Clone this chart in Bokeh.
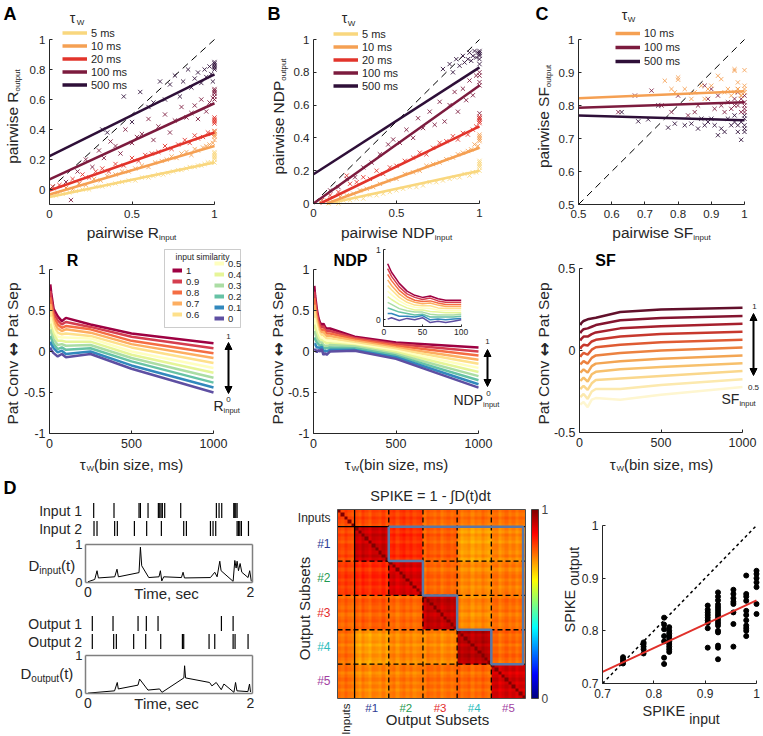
import numpy as np
from bokeh.plotting import figure
from bokeh.models import (Range1d, LinearAxis, FixedTicker, NumeralTickFormatter, Label, Legend,
                          LegendItem, Arrow, NormalHead, BoxAnnotation, ColorBar, LinearColorMapper)
from bokeh.layouts import row, column
from bokeh.embed import file_html
from bokeh.resources import INLINE

# ============================ DATA ============================
tau_names = ["5 ms", "10 ms", "20 ms", "100 ms", "500 ms"]
tau_colors = ["#F9D77E", "#F5A053", "#E2342B", "#7C1B3E", "#2E0F38"]

# ---- A: pairwise R ----
a_x_5 = [0.04, 0.08, 0.12, 0.16, 0.2, 0.24, 0.28, 0.32, 0.36, 0.4, 0.44, 0.48, 0.52, 0.56, 0.6, 0.63, 0.66, 0.69, 0.72, 0.75, 0.78, 0.8, 0.83, 0.85, 0.88, 0.9, 0.92, 0.94, 0.96, 0.98, 1.0, 1.0, 1.0, 1.0, 1.0, 1.0, 1.0]
a_y_5 = [-0.04, -0.03, -0.02, -0.01, 0.0, 0.0, 0.02, 0.02, 0.03, 0.04, 0.05, 0.06, 0.06, 0.08, 0.08, 0.09, 0.1, 0.1, 0.11, 0.12, 0.13, 0.13, 0.14, 0.15, 0.15, 0.16, 0.16, 0.17, 0.18, 0.18, 0.22, 0.24, 0.2, 0.18, 0.23, 0.21, 0.25]
a_x_10 = [0.05, 0.1, 0.14, 0.18, 0.22, 0.27, 0.31, 0.35, 0.4, 0.44, 0.48, 0.52, 0.56, 0.6, 0.64, 0.68, 0.71, 0.74, 0.77, 0.8, 0.83, 0.86, 0.88, 0.9, 0.93, 0.95, 0.97, 0.99, 1.0, 1.0, 1.0, 1.0, 1.0, 1.0]
a_y_10 = [-0.02, 0.01, 0.0, 0.04, 0.03, 0.07, 0.06, 0.09, 0.1, 0.12, 0.12, 0.14, 0.16, 0.15, 0.18, 0.19, 0.2, 0.22, 0.21, 0.24, 0.25, 0.23, 0.27, 0.26, 0.28, 0.29, 0.3, 0.31, 0.37, 0.38, 0.33, 0.36, 0.39, 0.35]
a_x_20 = [0.02, 0.06, 0.1, 0.14, 0.18, 0.2, 0.24, 0.28, 0.32, 0.36, 0.4, 0.45, 0.5, 0.54, 0.58, 0.62, 0.66, 0.7, 0.74, 0.78, 0.82, 0.85, 0.88, 0.9, 0.93, 0.96, 0.98, 1.0, 1.0, 1.0, 1.0, 1.0, 1.0]
a_y_20 = [0.02, 0.03, 0.01, 0.07, 0.04, 0.1, 0.08, 0.12, 0.14, 0.12, 0.17, 0.16, 0.21, 0.19, 0.23, 0.24, 0.25, 0.29, 0.27, 0.3, 0.33, 0.31, 0.36, 0.34, 0.35, 0.38, 0.37, 0.47, 0.45, 0.39, 0.46, 0.48, 0.44]
a_x_100 = [0.1, 0.13, 0.17, 0.22, 0.26, 0.3, 0.33, 0.37, 0.4, 0.43, 0.46, 0.5, 0.53, 0.56, 0.6, 0.63, 0.66, 0.7, 0.73, 0.76, 0.8, 0.83, 0.86, 0.88, 0.9, 0.92, 0.95, 0.97, 0.99, 1.0, 1.0, 1.0, 1.0, 1.0, 1.0]
a_y_100 = [0.05, -0.07, 0.12, 0.2, 0.15, 0.26, 0.21, 0.32, 0.29, 0.24, 0.4, 0.31, 0.35, 0.37, 0.47, 0.33, 0.42, 0.5, 0.38, 0.46, 0.55, 0.48, 0.51, 0.56, 0.47, 0.6, 0.52, 0.58, 0.61, 0.66, 0.64, 0.6, 0.62, 0.67, 0.65]
a_x_500 = [0.32, 0.35, 0.45, 0.5, 0.55, 0.6, 0.63, 0.67, 0.7, 0.73, 0.76, 0.79, 0.81, 0.84, 0.86, 0.88, 0.9, 0.92, 0.94, 0.95, 0.97, 0.98, 0.99, 1.0, 1.0, 1.0, 1.0, 1.0, 1.0]
a_y_500 = [0.4, 0.38, 0.62, 0.45, 0.65, 0.55, 0.58, 0.72, 0.6, 0.7, 0.76, 0.62, 0.72, 0.8, 0.68, 0.74, 0.78, 0.71, 0.8, 0.75, 0.82, 0.77, 0.72, 0.84, 0.82, 0.8, 0.85, 0.83, 0.81]
a_fit_x = [0.0, 1.0]
a_fit_5 = [-0.05, 0.18]
a_fit_10 = [-0.033, 0.29]
a_fit_20 = [-0.007, 0.38]
a_fit_100 = [0.067, 0.575]
a_fit_500 = [0.222, 0.767]

# ---- B: pairwise NDP ----
b_x_5 = [0.09, 0.12, 0.15, 0.18, 0.22, 0.26, 0.3, 0.34, 0.38, 0.42, 0.46, 0.5, 0.54, 0.58, 0.62, 0.66, 0.7, 0.74, 0.78, 0.82, 0.85, 0.88, 0.91, 0.94, 0.96, 0.98, 1.0, 1.0, 1.0, 1.0, 1.0, 1.0]
b_y_5 = [0.0, 0.01, 0.0, 0.02, 0.02, 0.03, 0.03, 0.05, 0.05, 0.06, 0.07, 0.08, 0.09, 0.1, 0.1, 0.11, 0.13, 0.13, 0.14, 0.15, 0.16, 0.16, 0.18, 0.17, 0.19, 0.19, 0.25, 0.22, 0.2, 0.24, 0.26, 0.23]
b_x_10 = [0.04, 0.08, 0.12, 0.16, 0.2, 0.24, 0.28, 0.32, 0.36, 0.4, 0.45, 0.5, 0.55, 0.6, 0.64, 0.68, 0.72, 0.76, 0.8, 0.84, 0.87, 0.9, 0.93, 0.95, 0.97, 0.99, 1.0, 1.0, 1.0, 1.0, 1.0]
b_y_10 = [0.01, 0.02, 0.01, 0.04, 0.05, 0.06, 0.08, 0.09, 0.1, 0.12, 0.14, 0.15, 0.18, 0.19, 0.2, 0.23, 0.24, 0.25, 0.27, 0.28, 0.3, 0.31, 0.32, 0.33, 0.36, 0.35, 0.4, 0.41, 0.39, 0.42, 0.38]
b_x_20 = [0.05, 0.1, 0.15, 0.2, 0.22, 0.26, 0.3, 0.34, 0.38, 0.42, 0.46, 0.5, 0.55, 0.6, 0.64, 0.68, 0.72, 0.76, 0.8, 0.84, 0.87, 0.9, 0.93, 0.96, 0.98, 1.0, 1.0, 1.0, 1.0, 1.0]
b_y_20 = [0.02, 0.05, 0.07, 0.17, 0.12, 0.13, 0.16, 0.15, 0.2, 0.18, 0.22, 0.23, 0.26, 0.28, 0.31, 0.3, 0.34, 0.37, 0.38, 0.41, 0.39, 0.43, 0.42, 0.45, 0.47, 0.51, 0.5, 0.52, 0.49, 0.53]
b_x_100 = [0.1, 0.15, 0.2, 0.25, 0.3, 0.35, 0.4, 0.45, 0.48, 0.52, 0.56, 0.6, 0.63, 0.66, 0.7, 0.73, 0.76, 0.79, 0.82, 0.85, 0.87, 0.9, 0.92, 0.94, 0.96, 0.98, 1.0, 1.0, 1.0, 1.0, 1.0, 1.0]
b_y_100 = [0.08, 0.1, 0.15, 0.16, 0.22, 0.25, 0.3, 0.36, 0.39, 0.37, 0.45, 0.4, 0.52, 0.46, 0.56, 0.48, 0.62, 0.5, 0.6, 0.68, 0.56, 0.7, 0.63, 0.75, 0.66, 0.78, 0.72, 0.8, 0.55, 0.78, 0.74, 0.52]
b_x_500 = [0.78, 0.82, 0.84, 0.86, 0.88, 0.9, 0.91, 0.93, 0.94, 0.95, 0.96, 0.97, 0.98, 0.99, 1.0, 1.0, 1.0, 1.0, 1.0, 1.0]
b_y_500 = [0.82, 0.85, 0.8, 0.88, 0.84, 0.9, 0.86, 0.88, 0.92, 0.87, 0.9, 0.93, 0.89, 0.92, 0.93, 0.9, 0.85, 0.92, 0.88, 0.91]
b_fitx_5, b_fit_5 = [0.09, 1.0], [0.0, 0.2]
b_fitx_10, b_fit_10 = [0.08, 1.0], [0.0, 0.34]
b_fitx_20, b_fit_20 = [0.04, 1.0], [0.0, 0.47]
b_fitx_100, b_fit_100 = [0.0, 1.0], [0.0, 0.72]
b_fitx_500, b_fit_500 = [0.0, 1.0], [0.178, 0.83]

# ---- C: pairwise SF ----
c_names = ["10 ms", "100 ms", "500 ms"]
c_colors = ["#F5A053", "#7C1B3E", "#2E0F38"]
c_x_10 = [0.76, 0.78, 0.79, 0.8, 0.8, 0.82, 0.84, 0.85, 0.87, 0.88, 0.89, 0.9, 0.92, 0.93, 0.94, 0.95, 0.96, 0.97, 0.97, 0.98, 0.98, 0.99, 0.99, 1.0, 1.0, 1.0, 0.97, 0.98, 0.99, 1.0]
c_y_10 = [0.875, 0.85, 0.84, 0.885, 0.878, 0.85, 0.82, 0.84, 0.86, 0.82, 0.85, 0.86, 0.89, 0.88, 0.84, 0.85, 0.83, 0.91, 0.905, 0.85, 0.87, 0.83, 0.84, 0.907, 0.86, 0.84, 0.84, 0.85, 0.83, 0.85]
c_x_100 = [0.62, 0.67, 0.72, 0.75, 0.78, 0.8, 0.83, 0.85, 0.86, 0.88, 0.89, 0.9, 0.91, 0.92, 0.93, 0.94, 0.95, 0.96, 0.97, 0.98, 0.98, 0.99, 1.0, 1.0, 1.0, 0.97, 0.99, 1.0, 1.0]
c_y_100 = [0.78, 0.83, 0.845, 0.8, 0.78, 0.83, 0.77, 0.78, 0.8, 0.86, 0.82, 0.85, 0.79, 0.83, 0.8, 0.78, 0.81, 0.79, 0.82, 0.8, 0.84, 0.78, 0.81, 0.79, 0.83, 0.8, 0.82, 0.8, 0.78]
c_x_500 = [0.63, 0.68, 0.71, 0.74, 0.77, 0.79, 0.82, 0.84, 0.86, 0.87, 0.88, 0.89, 0.9, 0.91, 0.92, 0.93, 0.94, 0.95, 0.96, 0.97, 0.98, 0.99, 0.99, 1.0, 1.0, 1.0, 0.97, 0.98, 1.0, 1.0]
c_y_500 = [0.78, 0.752, 0.758, 0.8, 0.733, 0.745, 0.74, 0.745, 0.73, 0.76, 0.74, 0.75, 0.76, 0.74, 0.71, 0.73, 0.72, 0.76, 0.74, 0.77, 0.72, 0.696, 0.75, 0.74, 0.76, 0.73, 0.75, 0.74, 0.72, 0.77]
c_fit_x = [0.5, 1.0]
c_fit_10 = [0.822, 0.843]
c_fit_100 = [0.793, 0.81]
c_fit_500 = [0.77, 0.755]

# ---- bottom row: similarity sweeps ----
sim_levels = ["1", "0.9", "0.8", "0.7", "0.6", "0.5", "0.4", "0.3", "0.2", "0.1", "0"]
sim_colors = ["#9e0142", "#d53e4f", "#f46d43", "#fdae61", "#fee08b", "#ffffbf",
              "#e6f598", "#abdda4", "#66c2a5", "#3288bd", "#5e4fa2"]
r_tau = [5, 10, 25, 50, 75, 100, 250, 500, 1000]
r_curves = [
    [0.82, 0.72, 0.52, 0.43, 0.37, 0.41, 0.33, 0.22, 0.10],
    [0.74, 0.65, 0.47, 0.38, 0.33, 0.36, 0.30, 0.18, 0.04],
    [0.66, 0.58, 0.42, 0.33, 0.29, 0.31, 0.27, 0.13, -0.02],
    [0.58, 0.51, 0.37, 0.28, 0.25, 0.27, 0.23, 0.09, -0.08],
    [0.50, 0.44, 0.31, 0.23, 0.21, 0.22, 0.19, 0.05, -0.14],
    [0.42, 0.37, 0.26, 0.18, 0.17, 0.17, 0.16, 0.00, -0.20],
    [0.34, 0.30, 0.21, 0.13, 0.13, 0.12, 0.12, -0.04, -0.26],
    [0.27, 0.23, 0.15, 0.08, 0.09, 0.07, 0.08, -0.08, -0.32],
    [0.19, 0.16, 0.09, 0.03, 0.05, 0.02, 0.04, -0.12, -0.38],
    [0.12, 0.09, 0.04, -0.01, 0.01, -0.03, 0.00, -0.17, -0.44],
    [0.05, 0.02, -0.02, -0.06, -0.03, -0.07, -0.03, -0.21, -0.50],
]
ndp_tau = [5, 10, 20, 30, 40, 50, 60, 70, 80, 90, 100, 250, 500, 1000]
ndp_curves = [
    [0.80, 0.68, 0.52, 0.41, 0.35, 0.32, 0.34, 0.30, 0.28, 0.28, 0.28, 0.18, 0.11, 0.05],
    [0.73, 0.62, 0.47, 0.37, 0.32, 0.29, 0.31, 0.27, 0.25, 0.25, 0.25, 0.165, 0.09, 0.00],
    [0.65, 0.56, 0.42, 0.33, 0.28, 0.26, 0.27, 0.24, 0.22, 0.22, 0.22, 0.15, 0.07, -0.05],
    [0.57, 0.49, 0.37, 0.29, 0.25, 0.23, 0.24, 0.21, 0.19, 0.19, 0.19, 0.13, 0.05, -0.10],
    [0.49, 0.43, 0.32, 0.25, 0.21, 0.20, 0.20, 0.17, 0.16, 0.16, 0.16, 0.11, 0.03, -0.15],
    [0.41, 0.36, 0.27, 0.21, 0.18, 0.17, 0.16, 0.14, 0.13, 0.13, 0.13, 0.09, 0.01, -0.20],
    [0.33, 0.29, 0.22, 0.17, 0.14, 0.14, 0.12, 0.11, 0.10, 0.10, 0.10, 0.07, -0.01, -0.25],
    [0.25, 0.22, 0.16, 0.13, 0.11, 0.11, 0.08, 0.07, 0.07, 0.07, 0.08, 0.06, -0.03, -0.30],
    [0.17, 0.15, 0.11, 0.09, 0.07, 0.08, 0.04, 0.04, 0.04, 0.04, 0.05, 0.04, -0.05, -0.35],
    [0.09, 0.09, 0.05, 0.05, 0.04, 0.06, 0.00, 0.01, 0.00, 0.01, 0.02, 0.02, -0.07, -0.40],
    [0.01, 0.03, -0.01, 0.02, 0.00, 0.03, -0.04, -0.02, -0.04, -0.02, 0.00, 0.01, -0.09, -0.44],
]
ndp_inset_n = 11  # first points (tau <= 100) shown in the inset
sf_levels = ["1", "0.95", "0.9", "0.85", "0.8", "0.75", "0.7", "0.65", "0.6", "0.55", "0.5"]
sf_colors = ["#62102B", "#84142F", "#A6202D", "#C7382D", "#DF5B33", "#EC8240",
             "#F3A553", "#F7C06C", "#FAD78C", "#FCE9AE", "#FEF6D0"]
sf_tau = [5, 10, 25, 50, 75, 100, 250, 500, 1000]
sf_curves = [
    [0.155, 0.165, 0.180, 0.190, 0.195, 0.200, 0.235, 0.250, 0.260],
    [0.105, 0.115, 0.130, 0.135, 0.145, 0.155, 0.185, 0.198, 0.210],
    [0.060, 0.070, 0.085, 0.085, 0.100, 0.110, 0.135, 0.148, 0.163],
    [0.010, 0.020, 0.035, 0.030, 0.055, 0.065, 0.085, 0.100, 0.115],
    [-0.040, -0.030, -0.015, -0.025, 0.005, 0.020, 0.035, 0.050, 0.065],
    [-0.085, -0.080, -0.065, -0.080, -0.045, -0.030, -0.015, 0.000, 0.018],
    [-0.135, -0.130, -0.115, -0.135, -0.095, -0.080, -0.065, -0.050, -0.030],
    [-0.185, -0.180, -0.165, -0.190, -0.145, -0.130, -0.115, -0.100, -0.078],
    [-0.235, -0.230, -0.215, -0.240, -0.200, -0.180, -0.170, -0.155, -0.125],
    [-0.285, -0.280, -0.265, -0.295, -0.250, -0.235, -0.235, -0.210, -0.175],
    [-0.330, -0.325, -0.315, -0.345, -0.300, -0.290, -0.300, -0.270, -0.222],
]

# ---- D: spike trains ----
input1_t = [0.07, 0.32, 0.628, 0.645, 0.739, 0.866, 0.883, 0.899, 0.915, 0.944, 1.141, 1.58, 1.613, 1.646, 1.794, 1.806, 1.819, 1.835]
input2_t = [0.074, 0.111, 0.328, 0.361, 0.571, 0.722, 0.903, 1.178, 1.211, 1.507, 1.539, 1.572, 1.835, 1.851, 1.868, 1.888, 1.975]
output1_t = [0.053, 0.308, 0.616, 0.718, 0.862, 1.642, 1.786]
output2_t = [0.053, 0.316, 0.349, 0.562, 0.71, 0.895, 1.162, 1.178, 1.49, 1.56, 1.786, 1.81, 1.97]
d_in_t = [0.0, 0.083, 0.111, 0.128, 0.329, 0.357, 0.374, 0.628, 0.645, 0.661, 0.748, 0.874, 0.891, 0.908, 0.932, 1.15, 1.17, 1.187, 1.507, 1.56, 1.589, 1.622, 1.638, 1.786, 1.807, 1.823, 1.835, 1.852, 1.872, 1.893, 1.97, 1.99, 2.01]
d_in_v = [0.02, 0.08, 0.31, 0.12, 0.15, 0.35, 0.15, 0.26, 0.93, 0.44, 0.13, 0.15, 0.31, 0.04, 0.15, 0.13, 0.27, 0.12, 0.13, 0.27, 0.15, 0.56, 0.31, 0.03, 0.58, 0.38, 0.56, 0.31, 0.5, 0.27, 0.13, 0.31, 0.03]
d_out_t = [0.0, 0.327, 0.36, 0.373, 0.615, 0.635, 0.738, 0.881, 0.91, 1.18, 1.189, 1.201, 1.496, 1.525, 1.578, 1.64, 1.673, 1.796, 1.816, 1.833, 1.968, 1.988, 2.0]
d_out_v = [0.01, 0.07, 0.29, 0.12, 0.22, 0.38, 0.09, 0.12, 0.03, 0.41, 0.73, 0.41, 0.29, 0.2, 0.29, 0.1, 0.25, 0.03, 0.29, 0.07, 0.05, 0.25, 0.04]

# ---- D: SPIKE similarity matrix (block structure) ----
hm_groups = ["Inputs", "#1", "#2", "#3", "#4", "#5"]
hm_group_colors = ["#262626", "#2E3A94", "#1F9A4F", "#E42A2A", "#2DBDBD", "#A23FA2"]
hm_sizes = [5, 10, 10, 10, 10, 10]
hm_block = [
    [0.80, 0.80, 0.81, 0.77, 0.76, 0.76],
    [0.80, 0.92, 0.83, 0.78, 0.72, 0.74],
    [0.81, 0.83, 0.91, 0.77, 0.74, 0.75],
    [0.77, 0.78, 0.77, 0.93, 0.74, 0.76],
    [0.76, 0.72, 0.74, 0.74, 0.94, 0.77],
    [0.76, 0.74, 0.75, 0.76, 0.77, 0.91],
]
hm_texture = [0.02, -0.01, 0.03, 0.0, -0.02, 0.01, -0.02, 0.03, 0.0, -0.03, 0.02, 0.01, -0.01, 0.03, -0.02,
              0.0, 0.02, -0.03, 0.01, 0.03, -0.01, 0.02, -0.02, 0.0, 0.01, -0.02, 0.03, 0.01, -0.01, 0.02,
              -0.03, 0.0, 0.02, -0.01, 0.01, 0.03, -0.02, 0.0, 0.02, -0.03, 0.01, -0.01, 0.03, 0.0, -0.02,
              0.01, 0.02, -0.03, 0.0, 0.03, -0.01, 0.02, -0.02, 0.01, 0.0]

# ---- D: SPIKE input vs output ----
spk_in = [0.74] * 4 + [0.78] * 5 + [0.82] * 7 + [0.83] * 10 + [0.905] * 9 + [0.925] * 17 + [0.955] * 8 + [0.98] * 11 + [1.0] * 7
spk_out = [0.738, 0.742, 0.746, 0.75,
           0.757, 0.765, 0.77, 0.775, 0.778,
           0.825, 0.812, 0.803, 0.79, 0.78, 0.749, 0.737,
           0.807, 0.8, 0.795, 0.79, 0.785, 0.78, 0.775, 0.77, 0.765, 0.76,
           0.848, 0.84, 0.835, 0.83, 0.825, 0.82, 0.815, 0.805, 0.768,
           0.873, 0.865, 0.858, 0.85, 0.845, 0.84, 0.835, 0.83, 0.825, 0.82, 0.815, 0.81, 0.8, 0.797, 0.772, 0.768, 0.746,
           0.878, 0.87, 0.862, 0.855, 0.851, 0.835, 0.813, 0.77,
           0.905, 0.87, 0.865, 0.857, 0.838, 0.83, 0.82, 0.81, 0.805, 0.8, 0.79,
           0.914, 0.908, 0.9, 0.892, 0.883, 0.851, 0.832]
spk_fit_x = [0.7, 1.0]
spk_fit_y = [0.722, 0.858]

# ============================ HELPERS ============================
FONT = "Liberation Sans"
AXC = "#262626"
CW = {" ": 278, "(": 333, ")": 333, ",": 278, "-": 333, ".": 278, "=": 584,
      "A": 667, "C": 722, "D": 722, "E": 667, "F": 611, "I": 278, "K": 667, "N": 722, "O": 778,
      "P": 667, "R": 722, "S": 667, "W": 944, "a": 556, "b": 556, "c": 500, "d": 556, "e": 556,
      "i": 222, "m": 833, "n": 556, "o": 556, "p": 556, "r": 333, "s": 500, "t": 278, "u": 556,
      "v": 500, "w": 722, "z": 500, "τ": 440, "↔": 840, "∫": 300}


def tw(s, size):
    return sum(CW.get(c, 556) for c in s) * size / 1000.0


class Panel:
    def __init__(self, x0, y0, x1, y1, xa, pxa, xb, pxb, ya, pya, yb, pyb):
        self.x0, self.y0, self.x1, self.y1 = x0, y0, x1, y1
        self.cx = (xa, pxa, (xb - xa) / (pxb - pxa))
        self.cy = (ya, pya, (yb - ya) / (pyb - pya))
        self.f = figure(width=x1 - x0, height=y1 - y0, output_backend="svg", toolbar_location=None,
                        title=None, x_axis_location=None, y_axis_location=None,
                        x_range=Range1d(self.X(x0), self.X(x1)),
                        y_range=Range1d(self.Y(y1), self.Y(y0)),
                        min_border_left=0, min_border_right=0, min_border_top=0, min_border_bottom=0)
        self.f.outline_line_color = None
        self.f.grid.visible = False

    def X(self, px):
        a, pa, k = self.cx
        return a + (px - pa) * k

    def Y(self, py):
        a, pa, k = self.cy
        return a + (py - pa) * k

    def xr(self, name, a, pa, b, pb):
        k = (b - a) / (pb - pa)
        d = dict(self.f.extra_x_ranges)
        d[name] = Range1d(a + (self.x0 - pa) * k, a + (self.x1 - pa) * k)
        self.f.extra_x_ranges = d

    def yr(self, name, a, pa, b, pb):
        k = (b - a) / (pb - pa)
        d = dict(self.f.extra_y_ranges)
        d[name] = Range1d(a + (self.y1 - pa) * k, a + (self.y0 - pa) * k)
        self.f.extra_y_ranges = d


def add_axis(P, side, loc, ticks, bounds, xr="default", yr="default", size="11px", color=AXC,
             line_color=AXC, line_width=1, tick_in=3, standoff=4, overrides=None, show_line=True,
             orientation="horizontal"):
    ax = LinearAxis(fixed_location=loc, ticker=FixedTicker(ticks=list(ticks)), bounds=bounds,
                    x_range_name=xr, y_range_name=yr)
    ax.formatter = NumeralTickFormatter(format="0.[0]")
    ax.major_tick_in = tick_in
    ax.major_tick_out = 0
    ax.major_tick_line_color = line_color if tick_in > 0 else None
    ax.major_tick_line_width = line_width
    ax.minor_tick_line_color = None
    ax.axis_line_color = line_color if show_line else None
    ax.axis_line_width = line_width
    ax.major_label_text_font = FONT
    ax.major_label_text_font_size = size
    ax.major_label_text_color = color
    ax.major_label_standoff = standoff
    ax.major_label_orientation = orientation
    if overrides:
        ax.major_label_overrides = overrides
    P.f.add_layout(ax, side)
    return ax


def lab(P, text, px, py, size, align="center", bold=False, color=AXC, angle=0.0, font=FONT):
    P.f.add_layout(Label(x=P.X(px), y=P.Y(py), text=text, text_font=font, text_font_size=f"{size}px",
                         text_align=align, text_baseline="middle", text_color=color,
                         text_font_style="bold" if bold else "normal", angle=angle))


def clabel(P, parts, px, py, vertical=False, align="center", color=AXC):
    # parts: (text, size, baseline shift[, font, bold])
    total = sum(tw(p[0], p[1]) for p in parts)
    cur = {"center": -total / 2.0, "left": 0.0, "right": -total}[align]
    for p in parts:
        t, s, sh = p[0], p[1], p[2]
        fnt = p[3] if len(p) > 3 else FONT
        bld = p[4] if len(p) > 4 else False
        if vertical:
            lab(P, t.strip(), px + sh, py - cur, s, align="left", color=color, angle=np.pi / 2,
                font=fnt, bold=bld)
        else:
            lab(P, t.strip(), px + cur, py + sh, s, align="left", color=color, font=fnt, bold=bld)
        cur += tw(t, s)


def legend(P, rends, labels, px, ptop, row_h, glyph_w=25, size="11px", standoff=4):
    n = len(rends)
    vy = P.y1 - (ptop + n * row_h)
    lg = Legend(items=[LegendItem(label=l, renderers=[r]) for l, r in zip(labels, rends)],
                location=(px - P.x0, vy), orientation="vertical",
                label_text_font=FONT, label_text_font_size=size, label_text_color=AXC,
                glyph_width=glyph_w, glyph_height=int(round(row_h)), label_height=int(round(row_h)),
                spacing=0, padding=0, margin=0, label_standoff=standoff,
                border_line_color=None, background_fill_alpha=0)
    P.f.add_layout(lg)


def legend_keys(P, colors, width):
    # renderers with a single undefined point: invisible in the plot, they only carry
    # the (thicker) legend key style
    return [P.f.line(np.array([np.nan]), np.array([np.nan]), line_color=c, line_width=width) for c in colors]


def darrow(P, px, ptop, pbot):
    P.f.add_layout(Arrow(start=NormalHead(size=7, fill_color="black", line_color="black"),
                         end=NormalHead(size=7, fill_color="black", line_color="black"),
                         x_start=P.X(px), y_start=P.Y(pbot), x_end=P.X(px), y_end=P.Y(ptop),
                         line_color="black", line_width=2))


def jet(v):
    r = min(max(1.5 - abs(4 * v - 3), 0), 1)
    g = min(max(1.5 - abs(4 * v - 2), 0), 1)
    b = min(max(1.5 - abs(4 * v - 1), 0), 1)
    return "#%02x%02x%02x" % (int(r * 255), int(g * 255), int(b * 255))


JET = [jet(i / 255.0) for i in range(256)]
W_TOT, H_TOT = 762, 735

# ============================ ROW 1 ============================
PA = Panel(0, 0, 262, 246, 0, 49, 1, 214, 0, 189, 1, 39)
PB = Panel(262, 0, 528, 246, 0, 313, 1, 479, 0, 203, 1, 39)
PC = Panel(528, 0, W_TOT, 246, 0.5, 578, 1, 744, 0.5, 204, 1, 39)


def top_panel(P, xs, ys, fxs, fys, colors):
    P.f.line([P.cx[0], 1.0], [P.cx[0], 1.0], line_color="black", line_width=1, line_dash="7 5")
    for x, y, c in reversed(list(zip(xs, ys, colors))):
        P.f.scatter(x, y, marker="x", size=6, line_color=c, line_width=1, alpha=0.85)
    for fx, fy, c in zip(fxs, fys, colors):
        P.f.line(fx, fy, line_color=c, line_width=2.5)
    return legend_keys(P, colors, 3.5)


rA = top_panel(PA, [a_x_5, a_x_10, a_x_20, a_x_100, a_x_500], [a_y_5, a_y_10, a_y_20, a_y_100, a_y_500],
               [a_fit_x] * 5, [a_fit_5, a_fit_10, a_fit_20, a_fit_100, a_fit_500], tau_colors)
add_axis(PA, "left", 0, [0, 0.2, 0.4, 0.6, 0.8, 1], (-0.1, 1), size="11.5px")
add_axis(PA, "below", -0.1, [0, 0.5, 1], (0, 1), size="11.5px", standoff=5)
legend(PA, rA, tau_names, 62, 26, 13)
lab(PA, "τ", 72, 17, 14)
lab(PA, "W", 80, 22, 8)
clabel(PA, [("pairwise R", 15.5, 0), ("output", 8, 5)], 12, 116, vertical=True)
clabel(PA, [("pairwise R", 15.5, 0), ("input", 8, 5)], 131, 232)
lab(PA, "A", 3, 13, 18, align="left", bold=True, color="black")

rB = top_panel(PB, [b_x_5, b_x_10, b_x_20, b_x_100, b_x_500], [b_y_5, b_y_10, b_y_20, b_y_100, b_y_500],
               [b_fitx_5, b_fitx_10, b_fitx_20, b_fitx_100, b_fitx_500],
               [b_fit_5, b_fit_10, b_fit_20, b_fit_100, b_fit_500], tau_colors)
add_axis(PB, "left", 0, [0, 0.2, 0.4, 0.6, 0.8, 1], (0, 1), size="11.5px")
add_axis(PB, "below", 0, [0, 0.5, 1], (0, 1), size="11.5px", standoff=5)
legend(PB, rB, tau_names, 333, 27, 13)
lab(PB, "τ", 344, 17, 14)
lab(PB, "W", 351, 23, 8)
clabel(PB, [("pairwise NDP", 15.5, 0), ("output", 8, 5)], 278, 116, vertical=True)
clabel(PB, [("pairwise NDP", 15.5, 0), ("input", 8, 5)], 396, 232)
lab(PB, "B", 267, 13, 18, align="left", bold=True, color="black")

rC = top_panel(PC, [c_x_10, c_x_100, c_x_500], [c_y_10, c_y_100, c_y_500],
               [c_fit_x] * 3, [c_fit_10, c_fit_100, c_fit_500], c_colors)
sf_ticks = [0.5, 0.6, 0.7, 0.8, 0.9, 1]
add_axis(PC, "left", 0.5, sf_ticks, (0.5, 1), size="11.5px")
add_axis(PC, "below", 0.5, sf_ticks, (0.5, 1), size="11.5px", standoff=5)
legend(PC, rC, c_names, 615, 26, 14)
lab(PC, "τ", 624, 14, 14)
lab(PC, "W", 631, 19, 8)
clabel(PC, [("pairwise SF", 15.5, 0), ("output", 8, 5)], 543, 116, vertical=True)
clabel(PC, [("pairwise SF", 15.5, 0), ("input", 8, 5)], 661, 232)
lab(PC, "C", 535, 13, 18, align="left", bold=True, color="black")

# ============================ ROW 2 ============================
PA2 = Panel(0, 246, 262, 476, 0, 49, 1000, 213, -1, 433, 1, 269)
PB2 = Panel(262, 246, 528, 476, 0, 313, 1000, 478, -1, 433, 1, 269)
PC2 = Panel(528, 246, W_TOT, 476, 0, 579, 1000, 742, -0.5, 432, 0.5, 268)

YLAB = [("Pat Conv ", 15.5, 0), ("↔ ", 17, 0, "DejaVu Sans", True), ("Pat Sep", 15.5, 0)]
XLAB = [("τ", 15, 0), ("W", 8, 4), ("(bin size, ms)", 15, 0)]


def bottom_common(P, cx, ylo, yticks, title, tx, xc):
    add_axis(P, "left", 0, yticks, (ylo, -ylo), size="12.5px")
    add_axis(P, "below", ylo, [0, 500, 1000], (0, 1000), size="12.5px", standoff=5)
    lab(P, title, tx, 260, 16, bold=True, color="black")
    clabel(P, YLAB, cx, 353, vertical=True)
    clabel(P, XLAB, xc, 464)


# A2
for vals, c in zip(r_curves, sim_colors):
    PA2.f.line(r_tau, vals, line_color=c, line_width=2.5)
rA2 = legend_keys(PA2, sim_colors, 4)
bottom_common(PA2, 12, -1, [-1, -0.5, 0, 0.5, 1], "R", 72, 131)
PA2.f.add_layout(BoxAnnotation(left=PA2.X(164), right=PA2.X(240), top=PA2.Y(249), bottom=PA2.Y(327),
                               fill_color="white", fill_alpha=1.0, line_color="#555555", line_width=1))
lab(PA2, "input similarity", 202, 256, 8.5)
legend(PA2, rA2[:5], sim_levels[:5], 172, 267, 10.5, glyph_w=10, size="9.5px", standoff=4)
legend(PA2, rA2[5:], sim_levels[5:], 214, 260.5, 10.5, glyph_w=10, size="9.5px", standoff=4)
darrow(PA2, 228, 342, 393)
lab(PA2, "1", 228, 336, 8)
lab(PA2, "0", 228, 399, 8)
clabel(PA2, [("R", 14, 0), ("input", 7.5, 5)], 213, 405, align="left")

# B2
for vals, c in zip(ndp_curves, sim_colors):
    PB2.f.line(ndp_tau, vals, line_color=c, line_width=2.5)
bottom_common(PB2, 277, -1, [-1, -0.5, 0, 0.5, 1], "NDP", 350, 396)
darrow(PB2, 487, 349, 386)
lab(PB2, "1", 487, 341, 8)
lab(PB2, "0", 488, 393, 8)
clabel(PB2, [("NDP", 14, 0), ("input", 7.5, 5)], 453, 399, align="left")
# inset
PB2.xr("ix", 0, 383.3, 100, 460.7)
PB2.yr("iy", 0, 319.3, 1, 249.3)
for vals, c in zip(ndp_curves, sim_colors):
    PB2.f.line(ndp_tau[:ndp_inset_n], vals[:ndp_inset_n], line_color=c, line_width=1.5,
               x_range_name="ix", y_range_name="iy")
add_axis(PB2, "left", 0, [0, 1], (-0.1, 1), xr="ix", yr="iy", size="8.5px", tick_in=2, standoff=3)
add_axis(PB2, "below", -0.1, [0, 50, 100], (0, 100), xr="ix", yr="iy", size="8.5px", tick_in=2, standoff=2)

# C2
for vals, c in zip(sf_curves, sf_colors):
    PC2.f.line(sf_tau, vals, line_color=c, line_width=2.5)
bottom_common(PC2, 543, -0.5, [-0.5, 0, 0.5], "SF", 605, 661)
darrow(PC2, 753, 313, 375)
lab(PC2, "1", 754, 306, 8)
lab(PC2, "0.5", 753, 387, 8)
clabel(PC2, [("SF", 14, 0), ("input", 7.5, 5)], 721, 398, align="left")

# ============================ ROW 3 ============================
# D left: spike trains and D(t)
PD1 = Panel(0, 476, 294, H_TOT, 0, 87.5, 2, 250, 0, 582, 1, 544)
PD1.yr("dout", 0, 693, 1, 655)
PD1.yr("trin", 1, 528, 2, 510)
PD1.yr("trout", 1, 641, 2, 623)
GRAY = "#7f7f7f"
for yrn in ["default", "dout"]:
    add_axis(PD1, "left", -0.03, [0, 1], (0, 1), yr=yrn, size="13px", line_color=GRAY, tick_in=0,
             standoff=3, line_width=1.5)
    add_axis(PD1, "right", 2.03, [], (0, 1), yr=yrn, line_color=GRAY, tick_in=0, line_width=1.5)
    add_axis(PD1, "below", 0, [0, 2], (-0.03, 2.03), yr=yrn, size="14px", line_color=GRAY, tick_in=0,
             standoff=4, line_width=1.5)
    add_axis(PD1, "above", 1, [], (-0.03, 2.03), yr=yrn, line_color=GRAY, tick_in=0, line_width=1.5)
add_axis(PD1, "left", 0, [1, 2], (1, 2), yr="trin", size="14px", show_line=False, tick_in=0, standoff=6,
         overrides={1: "Input 2", 2: "Input 1"})
add_axis(PD1, "left", 0, [1, 2], (1, 2), yr="trout", size="14px", show_line=False, tick_in=0, standoff=6,
         overrides={1: "Output 2", 2: "Output 1"})
for times, rown, yrn in [(input1_t, 2, "trin"), (input2_t, 1, "trin"), (output1_t, 2, "trout"), (output2_t, 1, "trout")]:
    PD1.f.scatter(times, [rown] * len(times), y_range_name=yrn, marker="dash", angle=np.pi / 2, size=15,
                  line_color="black", line_width=1.2)
PD1.f.line(d_in_t, d_in_v, line_color="black", line_width=1)
PD1.f.line(d_out_t, d_out_v, line_color="black", line_width=1, y_range_name="dout")
clabel(PD1, [("D", 15, 0), ("input", 10, 5), ("(t)", 15, 0)], 28, 565, align="left")
clabel(PD1, [("D", 15, 0), ("output", 10, 5), ("(t)", 15, 0)], 20, 673, align="left")
lab(PD1, "Time, sec", 166, 593, 15)
lab(PD1, "Time, sec", 166, 703, 15)
lab(PD1, "D", 3, 487, 18, align="left", bold=True, color="black")

# D middle: similarity matrix
PD2 = Panel(294, 476, 560, H_TOT, 0, 337, 55, 525, 0, 698, 55, 509)
edges = np.concatenate([[0], np.cumsum(hm_sizes)])
N = int(edges[-1])
grp = np.repeat(np.arange(len(hm_sizes)), hm_sizes)
tex = np.array(hm_texture)
M = np.array(hm_block)[grp][:, grp] + (tex[:, None] + tex[None, :]) / 2.0
np.fill_diagonal(M, 1.0)
M = np.clip(M, 0, 1)
mapper = LinearColorMapper(palette=JET, low=0, high=1)
PD2.f.image(image=[M[::-1]], x=0, y=0, dw=N, dh=N, color_mapper=mapper)
for k, e in enumerate(edges[1:-1]):
    dash = "solid" if k == 0 else "5 3"
    PD2.f.line([e, e], [0, N], line_color="black", line_width=1.3, line_dash=dash)
    PD2.f.line([0, N], [N - e, N - e], line_color="black", line_width=1.3, line_dash=dash)
PD2.f.quad(left=0, right=N, bottom=0, top=N, fill_color=None, line_color="#4d4d4d", line_width=1)
e = edges
rin = N - 0.7
path_c = [e[2], rin, rin, e[5], e[5], e[4], e[4], e[3], e[3], e[2], e[2]]
path_r = [e[1], e[1], e[5], e[5], e[4], e[4], e[3], e[3], e[2], e[2], e[1]]
PD2.f.line(path_c, [N - r for r in path_r], line_color="#5A78A8", line_width=2.5)
centers = [(edges[k] + edges[k + 1]) / 2.0 for k in range(len(hm_groups))]
for name, c, ctr in zip(hm_groups, hm_group_colors, centers):
    yv = float(N - ctr)
    add_axis(PD2, "left", 0, [yv], (yv, yv), size="12px", color=c, show_line=False, tick_in=0,
             standoff=7, overrides={yv: name})
    xv = float(ctr)
    if name == "Inputs":
        lab(PD2, name, PD2.cx[1] + xv / PD2.cx[2], 703, 11.5, align="right", color=c, angle=np.pi / 2)
    else:
        add_axis(PD2, "below", 0, [xv], (xv, xv), size="11.5px", color=c, show_line=False, tick_in=0,
                 standoff=3, overrides={xv: name})
cb = ColorBar(color_mapper=mapper, location=(531 - 294, H_TOT - 698), width=7, height=189,
              ticker=FixedTicker(ticks=[0, 1]), formatter=NumeralTickFormatter(format="0"),
              major_tick_line_color=None, bar_line_color="#444444", padding=0, margin=0,
              major_label_text_font=FONT, major_label_text_font_size="12px", label_standoff=3,
              background_fill_alpha=0, border_line_color=None)
PD2.f.add_layout(cb)
lab(PD2, "SPIKE = 1 - ∫D(t)dt", 430, 495, 14.5)
lab(PD2, "Output Subsets", 304, 608, 15, angle=np.pi / 2)
lab(PD2, "Output Subsets", 437, 719, 15)

# D right: SPIKE input vs output
PD3 = Panel(560, 476, W_TOT, H_TOT, 0.7, 602, 1.0, 756, 0.7, 683, 1.0, 525)
PD3.f.line([0.7, 1.0], [0.7, 1.0], line_color="black", line_width=1.5, line_dash="3 3")
PD3.f.scatter(spk_in, spk_out, size=5, color="black")
PD3.f.line(spk_fit_x, spk_fit_y, line_color="#E0302A", line_width=2)
spk_ticks = [0.7, 0.8, 0.9, 1.0]
add_axis(PD3, "left", 0.7, spk_ticks, (0.7, 1.0), size="12px")
add_axis(PD3, "below", 0.7, spk_ticks, (0.7, 1.0), size="12px", standoff=5)
clabel(PD3, [("SPIKE ", 14.5, 0), ("output", 14, 4)], 569, 632, vertical=True, align="left")
clabel(PD3, [("SPIKE ", 14.5, 0), ("input", 14, 8)], 642, 710, align="left")

layout = column(row(PA.f, PB.f, PC.f), row(PA2.f, PB2.f, PC2.f), row(PD1.f, PD2.f, PD3.f))
open("out.html", "w").write(file_html(layout, INLINE))
